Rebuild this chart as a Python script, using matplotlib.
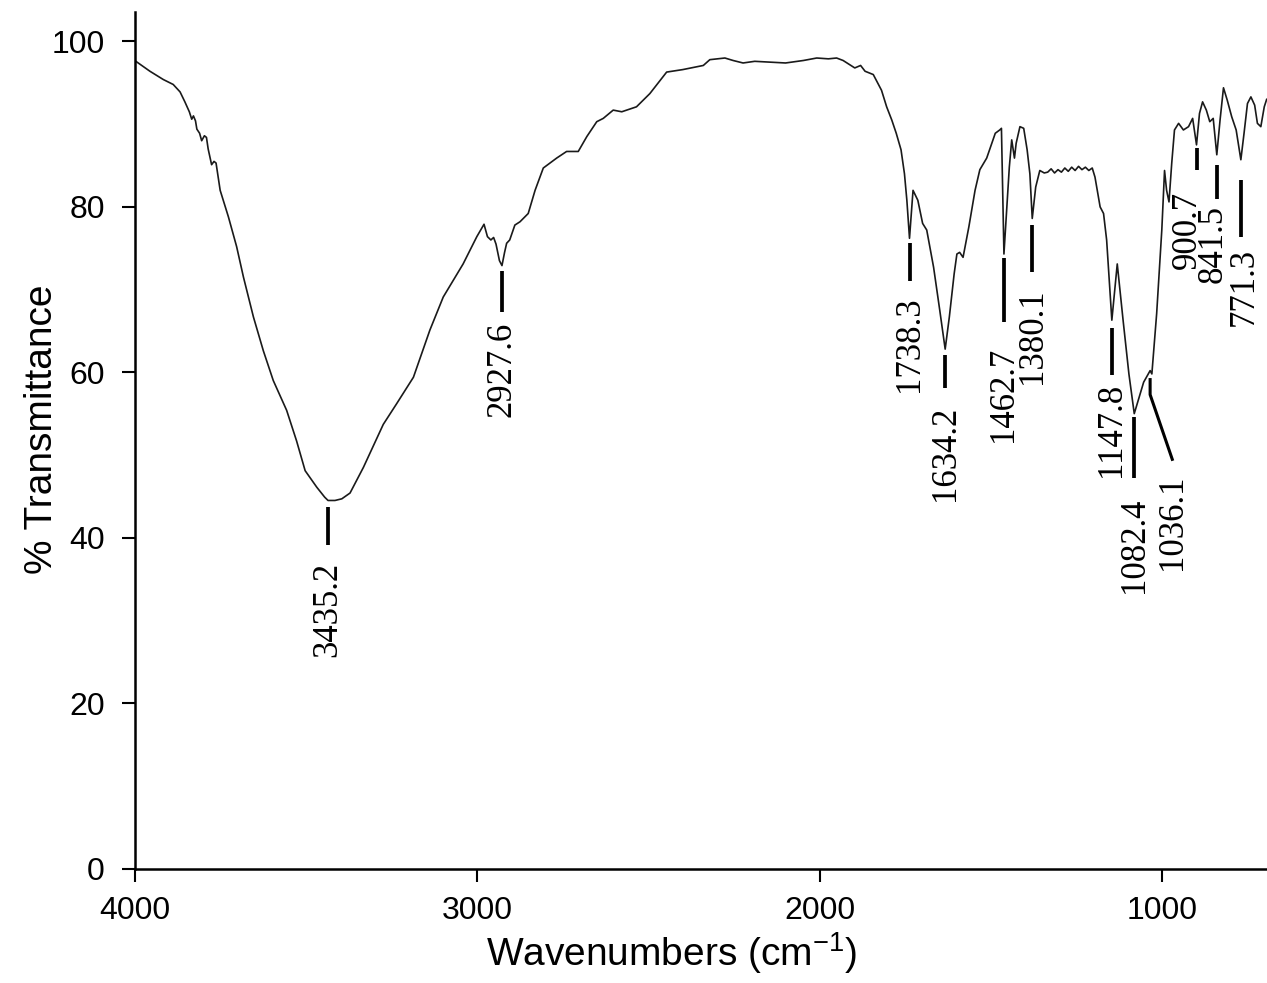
import matplotlib
matplotlib.use("Agg")
import matplotlib.pyplot as plt

plt.rcParams["mathtext.fontset"] = "custom"
plt.rcParams["mathtext.rm"] = "Liberation Sans"

# FTIR spectrum: wavenumber (cm-1) and % transmittance, read segment by segment
wn_oh = [3996, 3955, 3916, 3887, 3867, 3853, 3840, 3833, 3828, 3822,
         3818, 3810, 3804, 3796, 3790, 3785, 3775, 3768, 3762, 3750,
         3726, 3702, 3682, 3653, 3624, 3595, 3556, 3527, 3502, 3468,
         3445, 3435.2, 3415, 3395, 3371, 3332, 3274, 3235, 3186, 3138,
         3099, 3041, 3001, 2980]
t_oh = [97.6, 96.4, 95.4, 94.8, 93.9, 92.7, 91.5, 90.6, 91.0, 90.4,
        89.4, 88.9, 88.0, 88.6, 88.4, 87.0, 85.1, 85.5, 85.3, 82.0,
        78.8, 75.2, 71.5, 66.7, 62.6, 59.0, 55.4, 51.7, 48.1, 46.1,
        44.9, 44.5, 44.5, 44.7, 45.4, 48.5, 53.7, 56.2, 59.4, 65.1,
        69.1, 73.1, 76.4, 77.9]

wn_ch = [2970, 2960, 2952, 2945, 2935, 2927.6, 2920, 2914, 2905, 2890,
         2875, 2851, 2831, 2807, 2768, 2739, 2705, 2680, 2651, 2632,
         2603, 2578, 2535, 2496, 2447, 2400, 2340, 2321, 2277, 2253,
         2224, 2190, 2146, 2100, 2048, 2009, 1975, 1951, 1932, 1898,
         1881, 1868, 1844, 1820, 1805, 1790]
t_ch = [76.4, 76.0, 76.3, 75.5, 73.5, 72.9, 74.5, 75.6, 76.0, 77.8,
        78.2, 79.2, 82.0, 84.7, 85.9, 86.7, 86.7, 88.5, 90.3, 90.7,
        91.7, 91.5, 92.1, 93.7, 96.3, 96.6, 97.1, 97.8, 98.0, 97.7,
        97.4, 97.6, 97.5, 97.4, 97.7, 98.0, 97.9, 98.0, 97.7, 96.8,
        97.1, 96.4, 96.0, 94.1, 92.1, 90.5]

wn_co = [1777, 1763, 1753, 1746, 1738.3, 1728, 1714, 1700, 1688, 1668,
         1650, 1634.2, 1622, 1608, 1600, 1592, 1582, 1565, 1547, 1533,
         1513, 1488, 1475, 1470, 1462.7, 1447, 1440, 1432, 1427, 1416,
         1405, 1395, 1387, 1380.1, 1370, 1358, 1345, 1335, 1325, 1315,
         1305, 1295, 1285, 1275, 1265, 1255, 1245, 1235, 1225, 1215,
         1205]
t_co = [88.9, 86.9, 84.0, 80.8, 76.2, 82.0, 80.8, 78.0, 77.2, 72.7,
        67.5, 62.8, 66.7, 71.9, 74.3, 74.5, 73.9, 77.6, 82.0, 84.5,
        85.9, 88.9, 89.3, 89.5, 74.3, 84.8, 88.1, 85.9, 87.7, 89.7,
        89.5, 86.9, 84.0, 78.6, 82.4, 84.4, 84.1, 84.2, 84.6, 84.1,
        84.5, 84.2, 84.7, 84.3, 84.8, 84.4, 84.9, 84.5, 84.8, 84.4,
        84.7]

wn_fp = [1197, 1182, 1172, 1163, 1153, 1147.8, 1132, 1115, 1098, 1082.4,
         1055, 1036.1, 1031, 1017, 1002, 994, 988, 981, 973, 965,
         953, 939, 924, 912, 900.7, 892, 883, 872, 862, 852,
         841.5, 832, 822, 811, 798, 785, 771.3, 762, 752, 742,
         731, 723, 713, 703, 696]
t_fp = [83.6, 80.0, 79.2, 76.0, 69.5, 66.3, 73.1, 66.3, 59.8, 55.0,
        58.8, 60.2, 59.8, 67.1, 77.2, 84.4, 82.0, 80.6, 85.3, 89.3,
        90.1, 89.3, 89.7, 90.7, 87.5, 91.3, 92.7, 91.7, 90.3, 90.7,
        86.3, 90.5, 94.4, 92.9, 90.9, 89.3, 85.7, 88.9, 92.5, 93.3,
        92.3, 90.1, 89.7, 92.1, 93.0]

wavenumber = wn_oh + wn_ch + wn_co + wn_fp
transmittance = t_oh + t_ch + t_co + t_fp

# assigned bands
peak_wn = [3435.2, 2927.6, 1738.3, 1634.2, 1462.7, 1380.1,
           1147.8, 1082.4, 1036.1, 900.7, 841.5, 771.3]
peak_labels = ["3435.2", "2927.6", "1738.3", "1634.2", "1462.7", "1380.1",
               "1147.8", "1082.4", "1036.1", "900.7", "841.5", "771.3"]

# marker bar (top, bottom), label top and label x, in data units
bar_layout = [(43.7, 39.1, 37.1, 3435.2), (72.2, 67.3, 66.1, 2927.6),
              (75.6, 71.0, 69.2, 1738.3), (62.1, 58.1, 55.9, 1634.2),
              (73.8, 66.1, 63.1, 1462.7), (77.8, 72.1, 70.2, 1380.1),
              (65.3, 59.7, 58.7, 1147.8), (54.6, 47.2, 44.8, 1082.4),
              (59.3, 57.3, 47.6, 970.0), (87.1, 84.4, 81.9, 926.0),
              (85.1, 80.9, 80.2, 851.0), (83.3, 76.4, 75.0, 761.0)]

W, H = 1267, 983
fig = plt.figure(figsize=(W / 100, H / 100), dpi=100)
ax = fig.add_axes([134.5 / W, (H - 868.5) / H, (W - 134.5) / W, 856.8 / H])

ax.plot(wavenumber, transmittance, color="#1a1a1a", lw=1.2)

serif = "Liberation Serif"
for x, lab, (top, bot, ttop, tx) in zip(peak_wn, peak_labels, bar_layout):
    if lab == "1036.1":
        # shoulder: short drop then a slanted leader down to the label
        ax.plot([x, x, tx], [top, bot, 49.3], color="black", lw=2.2,
                solid_capstyle="butt")
    else:
        ax.plot([x, x], [top, bot], color="black", lw=2.7,
                solid_capstyle="butt")
    ax.text(tx, ttop, lab, rotation=90, ha="center", va="top",
            fontsize=25, family=serif)

ax.set_xlim(4000, 695)
ax.set_ylim(0, 103.6)
ax.set_xticks([4000, 3000, 2000, 1000])
ax.set_yticks([0, 20, 40, 60, 80, 100])

for s in ["top", "right"]:
    ax.spines[s].set_visible(False)
for s in ["left", "bottom"]:
    ax.spines[s].set_linewidth(1.8)

sans = "Liberation Sans"
ax.tick_params(direction="out", length=9.5, width=1.5, labelsize=23)
ax.tick_params(axis="x", pad=10)
ax.tick_params(axis="y", pad=12)
for lbl in ax.get_xticklabels() + ax.get_yticklabels():
    lbl.set_family(sans)

ax.set_xlabel(r"Wavenumbers (cm$^{\mathrm{-1}}$)", fontsize=28, family=sans)
ax.set_ylabel("% Transmittance", fontsize=28, family=sans)
ax.xaxis.set_label_coords(0.4746, -0.072)
ax.yaxis.set_label_coords(-0.066, 0.5125)

fig.savefig("out.png", dpi=100)
